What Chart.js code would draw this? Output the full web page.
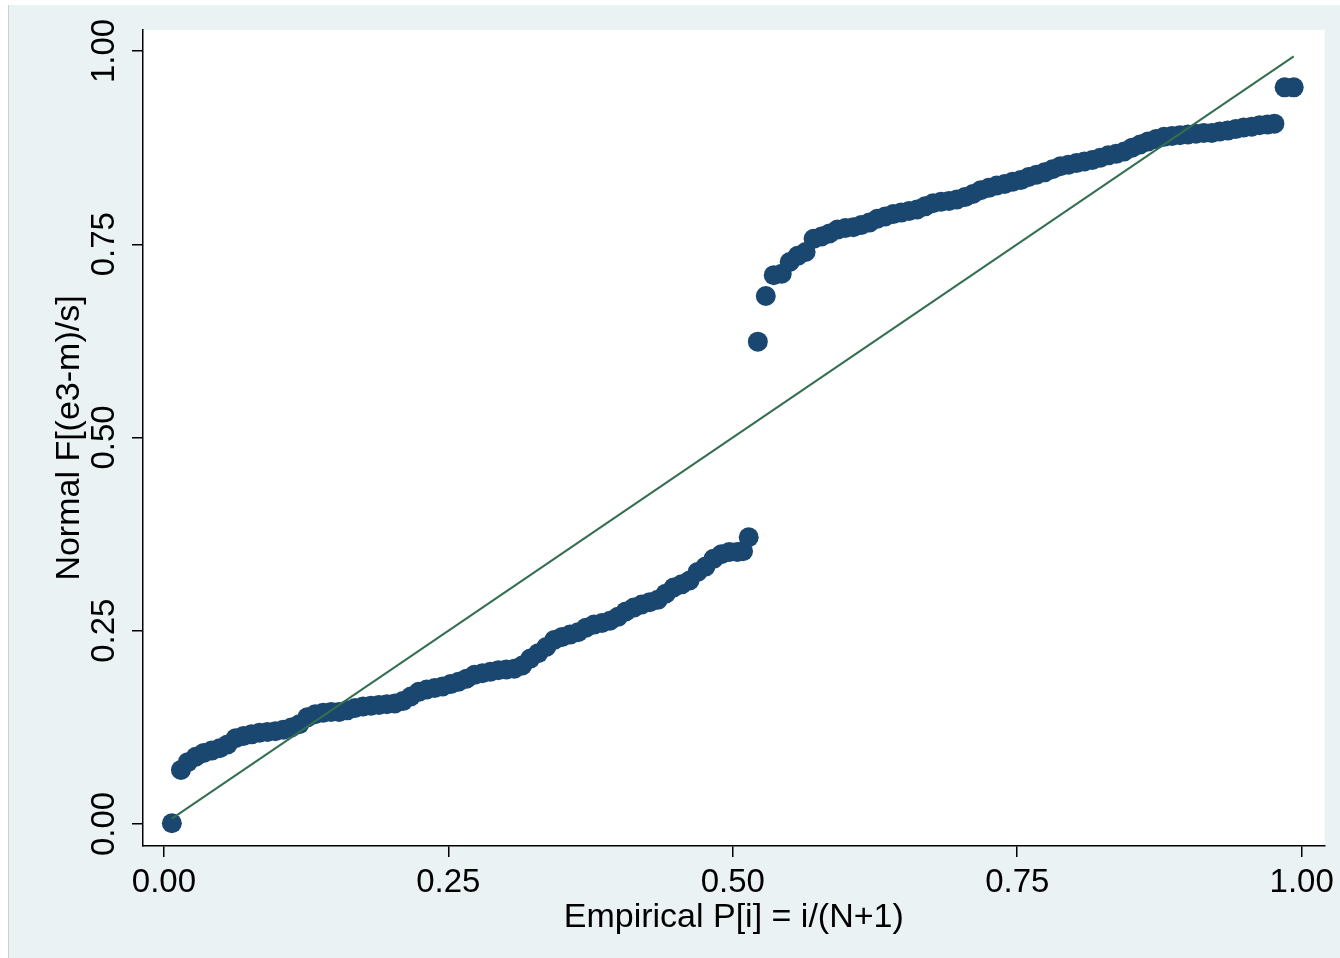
<!DOCTYPE html>
<html>
<head>
<meta charset="utf-8">
<script src="https://cdn.jsdelivr.net/npm/chart.js@4"></script>
<style>
  html, body { margin: 0; padding: 0; background: #ffffff; }
  #wrap {
    position: absolute; left: 8px; top: 5px;
    width: 1331px; height: 953px;
    background: #eaf2f3;
    border-left: 1px solid #c9d0d2;
  }
  canvas { display: block; }
</style>
</head>
<body>
<div id="wrap"><canvas id="ppChart" width="1331" height="953"></canvas></div>
<script>
//empirical probabilities P[i] (lower branch)
const lowX = [0.007, 0.015, 0.021, 0.028, 0.035, 0.042, 0.049, 0.056, 0.063, 0.070,
  0.077, 0.084, 0.091, 0.098, 0.105, 0.112, 0.119, 0.126, 0.133, 0.140,
  0.147, 0.154, 0.161, 0.168, 0.175, 0.182, 0.189, 0.196, 0.203, 0.210,
  0.217, 0.224, 0.231, 0.238, 0.245, 0.252, 0.259, 0.266, 0.273, 0.280,
  0.287, 0.294, 0.301, 0.308, 0.315, 0.322, 0.329, 0.336, 0.343, 0.350,
  0.357, 0.364, 0.371, 0.378, 0.385, 0.392, 0.399, 0.406, 0.413, 0.420,
  0.427, 0.434, 0.441, 0.448, 0.455, 0.462, 0.469, 0.476, 0.483, 0.490,
  0.497, 0.504, 0.509, 0.514];

//normal F values (lower branch)
const lowY = [0.001, 0.070, 0.080, 0.087, 0.092, 0.095, 0.098, 0.103, 0.111, 0.114,
  0.116, 0.118, 0.119, 0.120, 0.122, 0.125, 0.129, 0.138, 0.142, 0.144,
  0.145, 0.145, 0.147, 0.150, 0.152, 0.153, 0.154, 0.155, 0.156, 0.159,
  0.165, 0.171, 0.174, 0.176, 0.178, 0.181, 0.184, 0.188, 0.193, 0.195,
  0.197, 0.199, 0.200, 0.201, 0.205, 0.214, 0.221, 0.229, 0.238, 0.242,
  0.245, 0.248, 0.254, 0.258, 0.260, 0.263, 0.268, 0.275, 0.280, 0.284,
  0.287, 0.290, 0.298, 0.306, 0.310, 0.315, 0.326, 0.333, 0.343, 0.349,
  0.352, 0.352, 0.353, 0.371];

//empirical probabilities P[i] (upper branch)
const highX = [0.522, 0.529, 0.536, 0.543, 0.550, 0.557, 0.564, 0.571, 0.578, 0.585,
  0.592, 0.599, 0.606, 0.613, 0.620, 0.627, 0.634, 0.641, 0.648, 0.655,
  0.662, 0.669, 0.676, 0.683, 0.690, 0.697, 0.704, 0.711, 0.718, 0.725,
  0.732, 0.739, 0.746, 0.753, 0.760, 0.767, 0.774, 0.781, 0.788, 0.795,
  0.802, 0.809, 0.816, 0.823, 0.830, 0.837, 0.844, 0.851, 0.858, 0.865,
  0.872, 0.879, 0.886, 0.893, 0.900, 0.907, 0.914, 0.921, 0.928, 0.935,
  0.942, 0.949, 0.956, 0.963, 0.970, 0.976, 0.985, 0.993];

//normal F values (upper branch)
const highY = [0.624, 0.683, 0.710, 0.712, 0.727, 0.735, 0.740, 0.757, 0.760, 0.764,
  0.769, 0.771, 0.772, 0.775, 0.778, 0.783, 0.786, 0.789, 0.791, 0.793,
  0.795, 0.799, 0.803, 0.805, 0.806, 0.808, 0.811, 0.815, 0.820, 0.823,
  0.826, 0.828, 0.831, 0.833, 0.837, 0.840, 0.843, 0.847, 0.851, 0.853,
  0.855, 0.857, 0.859, 0.862, 0.865, 0.867, 0.870, 0.875, 0.879, 0.883,
  0.886, 0.889, 0.890, 0.891, 0.892, 0.893, 0.894, 0.894, 0.896, 0.897,
  0.899, 0.901, 0.902, 0.904, 0.905, 0.906, 0.953, 0.953];

//reference line y = x
const lineX = [0.007, 0.993];
const lineY = [0.007, 0.993];

//tick labels
const xTicks = [0, 0.25, 0.5, 0.75, 1];
const yTicks = [0, 0.25, 0.5, 0.75, 1];

const ppX = lowX.concat(highX);
const ppY = lowY.concat(highY);
const ppPoints = ppX.map((x, i) => ({ x: x, y: ppY[i] }));
const linePoints = lineX.map((x, i) => ({ x: x, y: lineY[i] }));

//white plot region
const plotBg = {
  id: "plotBg",
  beforeDraw(chart) {
    const a = chart.chartArea;
    const ctx = chart.ctx;
    ctx.save();
    ctx.fillStyle = "#ffffff";
    ctx.fillRect(a.left, a.top, a.right - a.left, a.bottom - a.top);
    ctx.restore();
  }
};

const tickFont = { family: "'Liberation Sans', Arial, sans-serif", size: 33 };
const titleFont = { family: "'Liberation Sans', Arial, sans-serif", size: 34, lineHeight: 1 };

new Chart(document.getElementById("ppChart"), {
  type: "scatter",
  data: {
    datasets: [
      {
        type: "line",
        data: linePoints,
        borderColor: "#336f50",
        borderWidth: 2,
        pointRadius: 0,
        fill: false,
        tension: 0
      },
      {
        data: ppPoints,
        backgroundColor: "#1a476f",
        borderWidth: 0,
        pointRadius: 10,
        pointHoverRadius: 10
      }
    ]
  },
  options: {
    responsive: false,
    animation: false,
    events: [],
    layout: { padding: { left: 0, right: 8, top: 25, bottom: 0 } },
    plugins: {
      legend: { display: false },
      tooltip: { enabled: false }
    },
    scales: {
      x: {
        type: "linear",
        min: -0.01837,
        max: 1.02012,
        afterBuildTicks: s => { s.ticks = xTicks.map(v => ({ value: v })); },
        afterFit: s => { s.height = 112; },
        ticks: {
          color: "#000000",
          font: tickFont,
          padding: 6,
          maxRotation: 0,
          callback: v => v.toFixed(2)
        },
        grid: { drawOnChartArea: false, drawTicks: true, tickLength: 11, color: "#000000", lineWidth: 1.5 },
        border: { display: true, color: "#000000", width: 1.5 },
        title: {
          display: true,
          text: "Empirical P[i] = i/(N+1)",
          color: "#000000",
          font: titleFont,
          padding: { top: 0, bottom: 23 }
        }
      },
      y: {
        type: "linear",
        min: -0.02846,
        max: 1.02717,
        afterBuildTicks: s => { s.ticks = yTicks.map(v => ({ value: v })); },
        afterFit: s => { s.width = 134; },
        ticks: {
          color: "#000000",
          font: tickFont,
          padding: -5,
          minRotation: 90,
          maxRotation: 90,
          crossAlign: "center",
          callback: v => v.toFixed(2)
        },
        grid: { drawOnChartArea: false, drawTicks: true, tickLength: 11, color: "#000000", lineWidth: 1.5 },
        border: { display: true, color: "#000000", width: 1.5 },
        title: {
          display: true,
          text: "Normal F[(e3-m)/s]",
          color: "#000000",
          font: titleFont,
          padding: { top: 44, bottom: 0 }
        }
      }
    }
  },
  plugins: [plotBg]
});
</script>
</body>
</html>
